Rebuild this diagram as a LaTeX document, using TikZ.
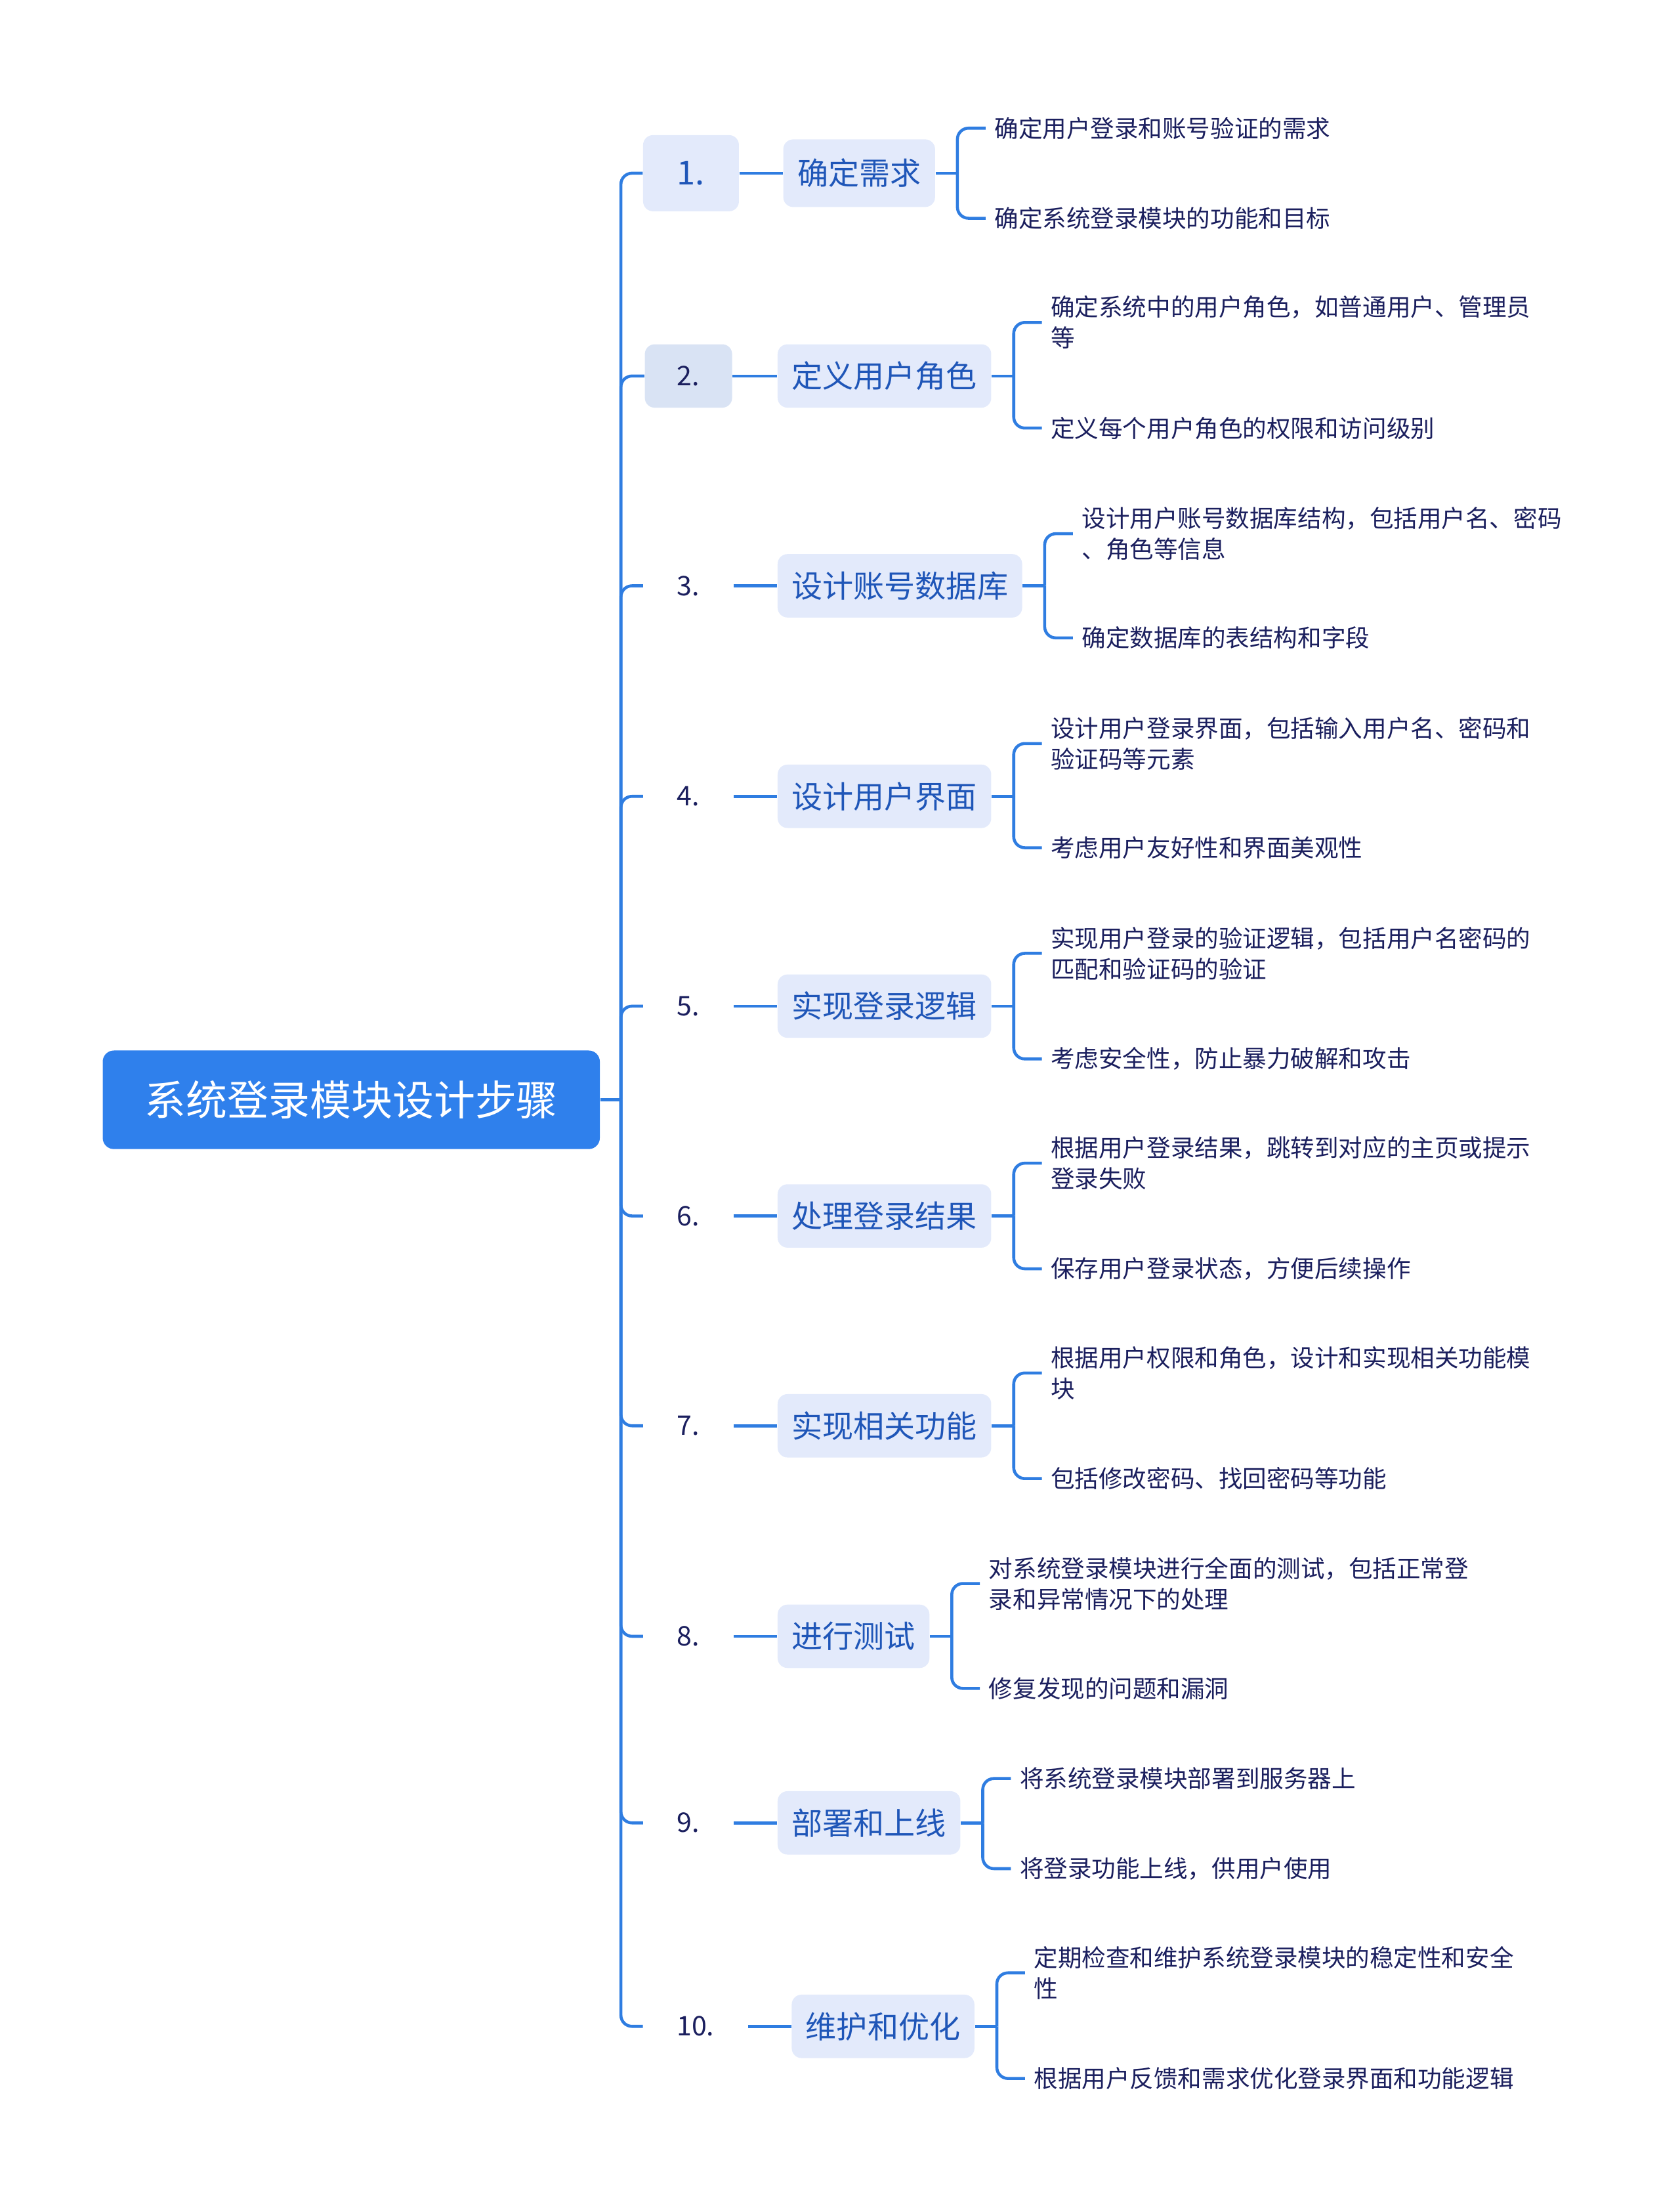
\documentclass[tikz,border=0pt]{standalone}
\usepackage{fontspec}
\setmainfont{Noto Sans CJK SC}
\usepackage{tikz}
\usetikzlibrary{positioning}

\definecolor{linkblue}{HTML}{2F7DE1}
\definecolor{rootblue}{HTML}{2F80EC}
\definecolor{stepfill}{HTML}{E3EAFB}
\definecolor{stepfg}{HTML}{1F56B8}
\definecolor{navy}{HTML}{1B1F5E}
\definecolor{numfill}{HTML}{D9E3F4}

\begin{document}
\begin{tikzpicture}[x=0.021459cm,y=-0.021459cm,
  rootbox/.style={fill=rootblue,text=white,rounded corners=0.17cm,minimum width=7.575cm,minimum height=1.502cm,font=\fontsize{17.9pt}{21pt}\selectfont},
  numbox/.style={text=navy,rounded corners=0.15cm,minimum width=1.373cm,minimum height=0.966cm,font=\fontsize{11.7pt}{14pt}\selectfont},
  stepbox/.style={anchor=west,fill=stepfill,text=stepfg,rounded corners=0.15cm,inner xsep=0.2146cm,minimum height=0.966cm,font=\fontsize{13.4pt}{16pt}\selectfont},
  leaf/.style={anchor=west,text=navy,align=left,inner xsep=0.13cm,font=\fontsize{10.4pt}{13.4pt}\selectfont},
  link/.style={draw=linkblue,line width=1.3pt,rounded corners=0.17cm}]
\useasboundingbox (0,0) rectangle (1193,1568);

\node[rootbox](root) at (249.5,781){系统登录模块设计步骤};
\coordinate(trunk) at (441,781);

\node[numbox,fill=stepfill,text=stepfg,minimum width=1.46cm,minimum height=1.16cm,font=\fontsize{14.4pt}{17pt}\selectfont](n1) at (490.8,123){1.};
\node[numbox,fill=numfill,minimum width=1.33cm](n2) at (489,267){2.};
\node[numbox](n3) at (489,416){3.};
\node[numbox](n4) at (489,565.5){4.};
\node[numbox](n5) at (489,714.5){5.};
\node[numbox](n6) at (489,863.5){6.};
\node[numbox](n7) at (489,1012.5){7.};
\node[numbox](n8) at (489,1162){8.};
\node[numbox](n9) at (489,1294.5){9.};
\node[numbox,minimum width=1.59cm](n10) at (494,1439){10.};

\node[stepbox,minimum height=1.03cm](s1) at (556,123){确定需求};
\node[stepbox](s2) at (552,267){定义用户角色};
\node[stepbox](s3) at (552,416){设计账号数据库};
\node[stepbox](s4) at (552,565.5){设计用户界面};
\node[stepbox](s5) at (552,714.5){实现登录逻辑};
\node[stepbox](s6) at (552,863.5){处理登录结果};
\node[stepbox](s7) at (552,1012.5){实现相关功能};
\node[stepbox](s8) at (552,1162){进行测试};
\node[stepbox](s9) at (552,1294.5){部署和上线};
\node[stepbox](s10) at (562,1439){维护和优化};

\coordinate(b1) at (680,123);
\coordinate(b2) at (720,267);
\coordinate(b3) at (742,416);
\coordinate(b4) at (720,565.5);
\coordinate(b5) at (720,714.5);
\coordinate(b6) at (720,863.5);
\coordinate(b7) at (720,1012.5);
\coordinate(b8) at (676,1162);
\coordinate(b9) at (698,1294.5);
\coordinate(b10) at (708,1439);

% leaves
\node[leaf](l1a) at (700,91){确定用户登录和账号验证的需求};
\node[leaf](l1b) at (700,155){确定系统登录模块的功能和目标};
\node[leaf](l2a) at (740,229){确定系统中的用户角色，如普通用户、管理员\\等};
\node[leaf](l2b) at (740,304){定义每个用户角色的权限和访问级别};
\node[leaf](l3a) at (762,379){设计用户账号数据库结构，包括用户名、密码\\、角色等信息};
\node[leaf](l3b) at (762,453){确定数据库的表结构和字段};
\node[leaf](l4a) at (740,528){设计用户登录界面，包括输入用户名、密码和\\验证码等元素};
\node[leaf](l4b) at (740,602){考虑用户友好性和界面美观性};
\node[leaf](l5a) at (740,677){实现用户登录的验证逻辑，包括用户名密码的\\匹配和验证码的验证};
\node[leaf](l5b) at (740,752){考虑安全性，防止暴力破解和攻击};
\node[leaf](l6a) at (740,826){根据用户登录结果，跳转到对应的主页或提示\\登录失败};
\node[leaf](l6b) at (740,901){保存用户登录状态，方便后续操作};
\node[leaf](l7a) at (740,975){根据用户权限和角色，设计和实现相关功能模\\块};
\node[leaf](l7b) at (740,1050){包括修改密码、找回密码等功能};
\node[leaf](l8a) at (696,1124.5){对系统登录模块进行全面的测试，包括正常登\\录和异常情况下的处理};
\node[leaf](l8b) at (696,1199){修复发现的问题和漏洞};
\node[leaf](l9a) at (718,1263){将系统登录模块部署到服务器上};
\node[leaf](l9b) at (718,1327){将登录功能上线，供用户使用};
\node[leaf](l10a) at (728,1401){定期检查和维护系统登录模块的稳定性和安全\\性};
\node[leaf](l10b) at (728,1476){根据用户反馈和需求优化登录界面和功能逻辑};

\draw[link](root.east)--(trunk);
\foreach \i in {1,...,10}{
  \draw[link](trunk)|-(n\i.west);
  \draw[link](n\i.east)--(s\i.west);
  \draw[link](s\i.east)--(b\i);
  \draw[link](b\i)|-(l\i a.west);
  \draw[link](b\i)|-(l\i b.west);
}
\end{tikzpicture}
\end{document}
